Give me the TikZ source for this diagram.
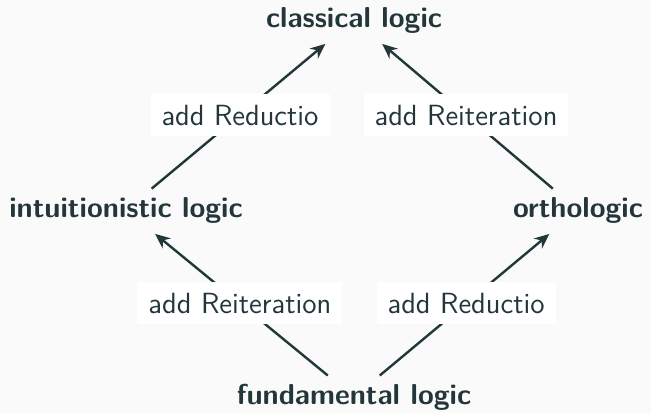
\documentclass[tikz,border=0pt]{standalone}
\usetikzlibrary{arrows.meta}
\definecolor{dteal}{HTML}{23373B}
\definecolor{bgc}{HTML}{FAFAFA}
\begin{document}
\begin{tikzpicture}[x=0.5pt,y=-0.5pt,
  lnode/.style={font=\sffamily\bfseries\fontsize{14.4}{17}\selectfont, text=dteal, inner sep=4pt},
  lab/.style={font=\sffamily\fontsize{14.6}{17}\selectfont, text=dteal, fill=white, inner xsep=5.5pt, inner ysep=5.5pt, text height=10pt, text depth=0pt},
  arr/.style={-{Stealth[length=7.5pt,width=6.5pt]}, line width=1.2pt, draw=dteal, shorten >=2pt}]
\fill[bgc] (0,0) rectangle (651,413);
\useasboundingbox (0,0) rectangle (651,413);
\node[lnode] (cl) at (354,20) {classical logic};
\node[lnode] (in) at (126,210) {intuitionistic logic};
\node[lnode] (or) at (578,210) {orthologic};
\node[lnode] (fu) at (354,397) {fundamental logic};
\draw[arr] (fu) -- node[lab] {add Reiteration} (in);
\draw[arr] (fu) -- node[lab] {add Reductio} (or);
\draw[arr] (in) -- node[lab] {add Reductio} (cl);
\draw[arr] (or) -- node[lab] {add Reiteration} (cl);
\end{tikzpicture}
\end{document}
